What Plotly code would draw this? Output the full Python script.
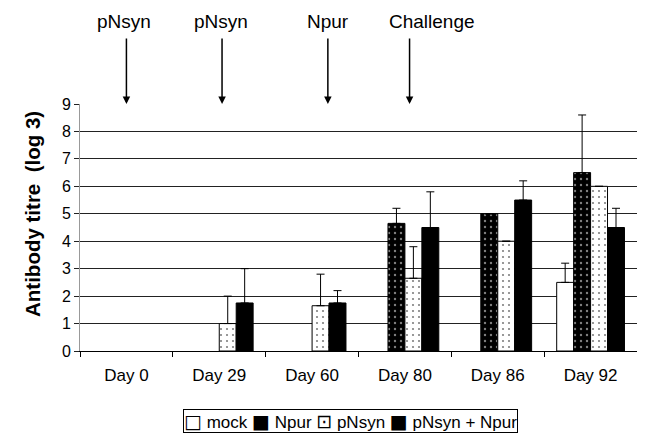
import plotly.graph_objects as go

days = ["Day 0", "Day 29", "Day 60", "Day 80", "Day 86", "Day 92"]
series = ["mock", "Npur", "pNsyn", "pNsyn + Npur"]
mock = [0, 0, 0, 0, 0, 2.5]
mock_err = [0, 0, 0, 0, 0, 0.7]
npur = [0, 0, 0, 4.65, 5.0, 6.5]
npur_err = [0, 0, 0, 0.55, 0, 2.1]
pnsyn = [0, 1.0, 1.65, 2.65, 4.0, 6.0]
pnsyn_err = [0, 1.0, 1.15, 1.15, 0, 0]
combo = [0, 1.75, 1.75, 4.5, 5.5, 4.5]
combo_err = [0, 1.25, 0.45, 1.3, 0.7, 0.7]

events = ["pNsyn", "pNsyn", "Npur", "Challenge"]
event_pos = [0.0, 1.03, 2.17, 3.05]
event_label_pos = [-0.03, 1.02, 2.17, 3.29]

legend_symbols = ["□", "■", "⊡", "■"]

font = "Liberation Sans, Arial, sans-serif"

styles = [
    dict(color="white", pattern=None),
    dict(color="black", pattern=dict(shape=".", fgcolor="white", bgcolor="black", size=6, solidity=0.12)),
    dict(color="white", pattern=dict(shape=".", fgcolor="black", bgcolor="white", size=6, solidity=0.1)),
    dict(color="black", pattern=None),
]
vals = [mock, npur, pnsyn, combo]
errs = [mock_err, npur_err, pnsyn_err, combo_err]

fig = go.Figure()
for name, v, e, s in zip(series, vals, errs, styles):
    marker = dict(color=s["color"], line=dict(color="black", width=1))
    if s["pattern"]:
        marker["pattern"] = s["pattern"]
    yv = [x if x != 0 else None for x in v]
    fig.add_trace(go.Bar(
        x=days, y=yv, name=name, marker=marker, showlegend=False,
        error_y=dict(type="data", array=e, arrayminus=[0]*len(e), symmetric=False,
                     color="black", thickness=1, width=4, visible=True),
    ))

annotations = []
for t, p, lp in zip(events, event_pos, event_label_pos):
    annotations.append(dict(
        x=p, y=9, xref="x", yref="y", text="", showarrow=True,
        ax=0, ay=-67, arrowhead=2, arrowsize=1, arrowwidth=1.5, arrowcolor="black",
    ))
    annotations.append(dict(
        x=lp, y=1.336, xref="x", yref="paper", text=t, showarrow=False,
        xanchor="center", yanchor="middle",
        font=dict(family=font, size=19, color="black"),
    ))

# y-axis title
annotations.append(dict(
    x=-0.0844, y=0.5547, xref="paper", yref="paper", showarrow=False,
    text="<b>Antibody titre  (log 3)</b>", textangle=-90,
    xanchor="center", yanchor="middle",
    font=dict(family=font, size=20.5, color="black"),
))

# legend box
leg_parts = []
for sym, name in zip(legend_symbols, series):
    leg_parts.append('<span style="font-family:DejaVu Sans;font-size:19px">' + sym + '</span> ' + name)
annotations.append(dict(
    x=0.485, y=-0.285, xref="paper", yref="paper", showarrow=False,
    text=" ".join(leg_parts), xanchor="center", yanchor="middle",
    bordercolor="black", borderwidth=1, borderpad=0, bgcolor="white",
    font=dict(family=font, size=17, color="black"),
))

fig.update_layout(
    width=645, height=435,
    margin=dict(l=72, r=16, t=96, b=92, autoexpand=False),
    plot_bgcolor="white", paper_bgcolor="white",
    barmode="group", bargap=0.27, bargroupgap=0,
    font=dict(family=font, size=16, color="black"),
    showlegend=False,
    annotations=annotations,
)
fig.update_xaxes(showline=True, linecolor="black", linewidth=1, ticks="outside",
                 tickson="boundaries", ticklen=5, tickcolor="black",
                 tickfont=dict(size=17), ticklabelstandoff=9,
                 showgrid=False, automargin=False)
fig.update_yaxes(range=[0, 9], dtick=1, showgrid=True, gridcolor="#222", gridwidth=1,
                 showline=True, linecolor="#999", linewidth=1, ticks="outside",
                 ticklen=5, tickcolor="#222", tickfont=dict(size=16), automargin=False,
                 zeroline=False)

fig.write_html("out.html")
